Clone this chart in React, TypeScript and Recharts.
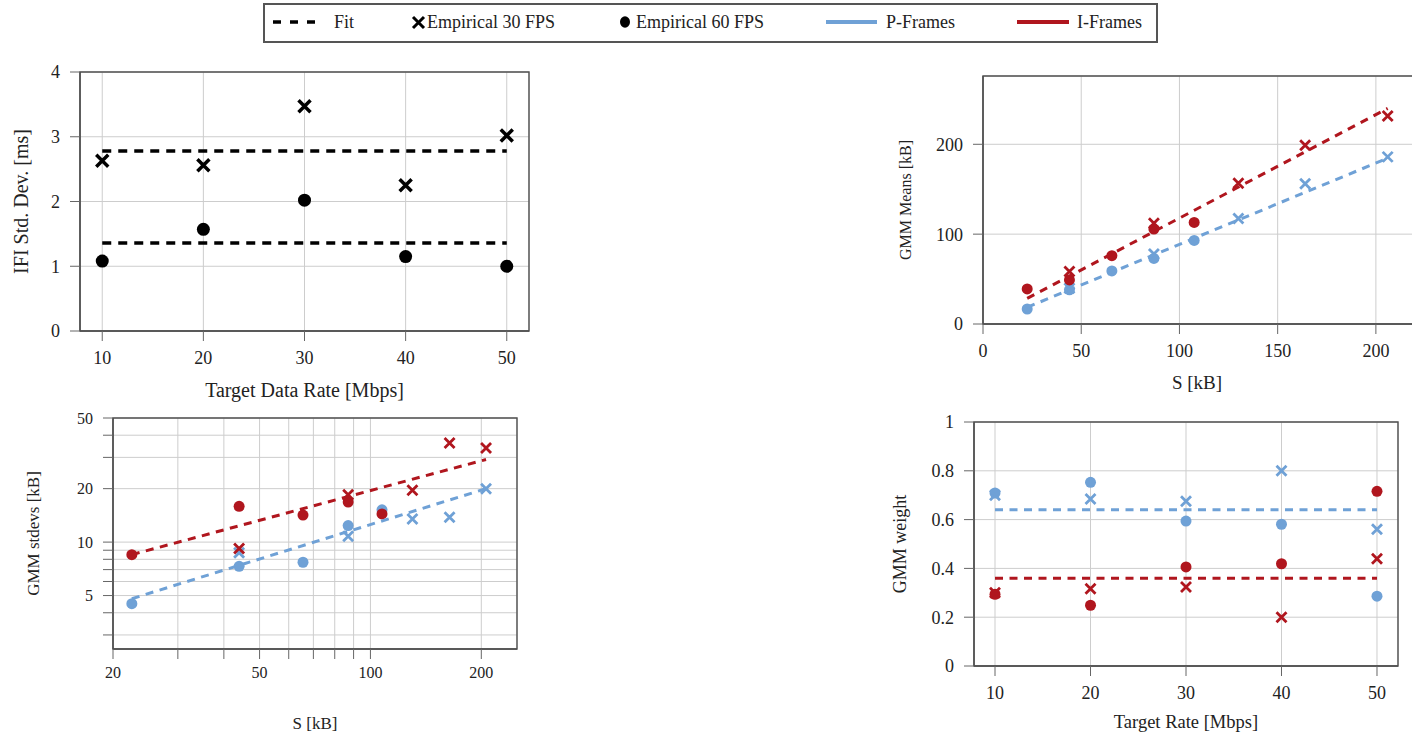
import React from "react";
import {
  CartesianGrid,
  Label,
  ReferenceArea,
  Scatter,
  ScatterChart,
  XAxis,
  YAxis,
} from "recharts";

const FONT = '"Liberation Serif", "DejaVu Serif", serif';
const BLUE = "#6fa1d6";
const RED = "#b0161e";
const INK = "#222";

// top left: inter-frame interval std. dev.
const rates = [10, 20, 30, 40, 50];
const fitRates = [10, 50];
const ifiStd30 = [2.63, 2.56, 3.47, 2.25, 3.02];
const ifiStd60 = [1.08, 1.57, 2.02, 1.15, 1.0];
const ifiFit30 = [2.78, 2.78];
const ifiFit60 = [1.36, 1.36];

// frame sizes S [kB] for the two frame rates
const size30 = [44, 87, 130, 164, 206];
const size60 = [22.5, 44, 65.6, 87, 107.5];
const fitSize = [22.5, 206];

// top right: GMM means
const meanP30 = [39.7, 78, 117.5, 156, 186];
const meanP60 = [16.7, 38, 59, 73, 93];
const meanI30 = [58.5, 112, 156.7, 199, 231.6];
const meanI60 = [39, 49, 76, 105.6, 113];
const meanFitP = [18.6, 184.5];
const meanFitI = [28.5, 240];

// bottom left: GMM stdevs (log-log)
const stdP30 = [8.7, 10.8, 13.5, 13.8, 20.0];
const stdP60 = [4.5, 7.3, 7.7, 12.4, 15.2];
const stdI30 = [9.2, 18.5, 19.6, 36.2, 33.9];
const stdI60 = [8.5, 15.9, 14.2, 16.8, 14.4];
const stdFitP = [4.8, 20.0];
const stdFitI = [8.5, 29.2];

// bottom right: GMM weights
const wP30 = [0.7, 0.684, 0.675, 0.8, 0.56];
const wP60 = [0.709, 0.753, 0.594, 0.581, 0.286];
const wI30 = [0.3, 0.317, 0.324, 0.2, 0.44];
const wI60 = [0.294, 0.249, 0.406, 0.419, 0.716];
const wFitP = [0.64, 0.64];
const wFitI = [0.36, 0.36];

// ticks
const rateTicks = [10, 20, 30, 40, 50];
const ifiTicks = [0, 1, 2, 3, 4];
const sizeTicks = [0, 50, 100, 150, 200];
const meanTicks = [0, 100, 200];
const logSizeTicks = [20, 30, 40, 50, 60, 70, 80, 90, 100, 200];
const logSizeLabels = [20, 50, 100, 200];
const logStdTicks = [3, 4, 5, 6, 7, 8, 9, 10, 20, 30, 40, 50];
const logStdLabels = [5, 10, 20, 50];
const weightTicks = [0, 0.2, 0.4, 0.6, 0.8, 1];

type Pt = { x: number; y: number };
type Kind = "dot" | "cross" | "fit";
type Series = { data: Pt[]; color: string; kind: Kind };

const pts = (xs: number[], ys: number[]): Pt[] =>
  xs.map((x, i) => ({ x, y: ys[i] }));

const crossShape = (color: string, s: number, w: number) => (props: any) => {
  const { cx, cy } = props;
  return (
    <path
      d={`M${cx - s},${cy - s}L${cx + s},${cy + s}M${cx - s},${cy + s}L${cx + s},${cy - s}`}
      stroke={color}
      strokeWidth={w}
      fill="none"
    />
  );
};

const dotShape = (color: string, r: number) => (props: any) => (
  <circle cx={props.cx} cy={props.cy} r={r} fill={color} />
);

const ML = 110;
const MT = 10;
const MR = 10;
const MB = 95;

type PanelProps = {
  box: [number, number, number, number];
  xDomain: [number, number];
  yDomain: [number, number];
  xTicks: number[];
  yTicks: number[];
  log?: boolean;
  xFmt?: (v: number) => string;
  yFmt?: (v: number) => string;
  xLabel: string;
  yLabel: string;
  xLabelGap: number;
  yLabelGap: number;
  xLabelShift?: number;
  tickFont: number;
  labelFont: number;
  yLabelFont?: number;
  xTickMargin: number;
  marker: { r: number; s: number; w: number };
  fitWidth: number;
  dash: string;
  series: Series[];
};

function Panel(p: PanelProps) {
  const [left, top, w, h] = p.box;
  const tickStyle = { fill: INK, fontSize: p.tickFont, fontFamily: FONT };
  return (
    <div style={{ position: "absolute", left: left - ML, top: top - MT }}>
      <ScatterChart
        width={ML + w + MR}
        height={MT + h + MB}
        margin={{ top: MT, right: MR, left: 0, bottom: 0 }}
      >
        <CartesianGrid stroke="#cdcdcd" strokeWidth={1} />
        <XAxis
          type="number"
          dataKey="x"
          domain={p.xDomain}
          ticks={p.xTicks}
          scale={p.log ? "log" : "linear"}
          allowDataOverflow
          interval={0}
          height={MB}
          tickSize={10}
          tickMargin={p.xTickMargin}
          tickLine={{ stroke: "#666" }}
          axisLine={{ stroke: "#505050", strokeWidth: 1.4 }}
          tick={tickStyle}
          tickFormatter={p.xFmt}
        >
          <Label
            content={(props: any) => {
              const vb = props.viewBox;
              return (
                <text
                  x={vb.x + vb.width / 2 + (p.xLabelShift ?? 0)}
                  y={vb.y + p.xLabelGap}
                  textAnchor="middle"
                  dominantBaseline="central"
                  fontSize={p.labelFont}
                  fontFamily={FONT}
                  fill={INK}
                >
                  {p.xLabel}
                </text>
              );
            }}
          />
        </XAxis>
        <YAxis
          type="number"
          dataKey="y"
          domain={p.yDomain}
          ticks={p.yTicks}
          scale={p.log ? "log" : "linear"}
          allowDataOverflow
          interval={0}
          width={ML}
          tickSize={10}
          tickMargin={10}
          tickLine={{ stroke: "#666" }}
          axisLine={{ stroke: "#505050", strokeWidth: 1.4 }}
          tick={tickStyle}
          tickFormatter={p.yFmt}
        >
          <Label
            content={(props: any) => {
              const vb = props.viewBox;
              const x = vb.x + vb.width - p.yLabelGap;
              const y = vb.y + vb.height / 2;
              return (
                <text
                  x={x}
                  y={y}
                  transform={`rotate(-90 ${x} ${y})`}
                  textAnchor="middle"
                  dominantBaseline="central"
                  fontSize={p.yLabelFont ?? p.labelFont}
                  fontFamily={FONT}
                  fill={INK}
                >
                  {p.yLabel}
                </text>
              );
            }}
          />
        </YAxis>
        <ReferenceArea
          x1={p.xDomain[0]}
          x2={p.xDomain[1]}
          y1={p.yDomain[0]}
          y2={p.yDomain[1]}
          fill="none"
          stroke="#505050"
          strokeWidth={1.4}
          ifOverflow="visible"
        />
        {p.series
          .filter((s) => s.kind !== "fit")
          .map((s, i) => (
            <Scatter
              key={`m${i}`}
              data={s.data}
              isAnimationActive={false}
              shape={
                s.kind === "cross"
                  ? crossShape(s.color, p.marker.s, p.marker.w)
                  : dotShape(s.color, p.marker.r)
              }
            />
          ))}
        {p.series
          .filter((s) => s.kind === "fit")
          .map((s, i) => (
            <Scatter
              key={`f${i}`}
              data={s.data}
              isAnimationActive={false}
              shape={() => <g />}
              line={{
                stroke: s.color,
                strokeWidth: p.fitWidth,
                strokeDasharray: p.dash,
                fill: "none",
              }}
            />
          ))}
      </ScatterChart>
    </div>
  );
}

const logFmt = (labels: number[]) => (v: number) =>
  labels.includes(v) ? String(v) : "";

function LegendBox() {
  const text: React.CSSProperties = {
    position: "absolute",
    top: 7,
    fontSize: 18,
    fontFamily: FONT,
    color: INK,
    lineHeight: "20px",
    whiteSpace: "nowrap",
  };
  return (
    <div
      style={{
        position: "absolute",
        left: 263,
        top: 3,
        width: 895,
        height: 40,
        border: "2px solid #555",
        boxSizing: "border-box",
      }}
    >
      <svg
        width={895}
        height={40}
        style={{ position: "absolute", left: -2, top: -2 }}
      >
        <line
          x1={10}
          y1={19}
          x2={52}
          y2={19}
          stroke="#000"
          strokeWidth={3.5}
          strokeDasharray="8 9"
        />
        <path d="M150,14L161,25M150,25L161,14" stroke="#000" strokeWidth={3} />
        <ellipse cx={362} cy={19} rx={5} ry={5.8} fill="#000" />
        <line x1={563} y1={19} x2={614} y2={19} stroke={BLUE} strokeWidth={4} />
        <line x1={754} y1={19} x2={806} y2={19} stroke={RED} strokeWidth={4} />
      </svg>
      <span style={{ ...text, left: 69 }}>Fit</span>
      <span style={{ ...text, left: 162 }}>Empirical 30 FPS</span>
      <span style={{ ...text, left: 371 }}>Empirical 60 FPS</span>
      <span style={{ ...text, left: 621 }}>P-Frames</span>
      <span style={{ ...text, left: 812 }}>I-Frames</span>
    </div>
  );
}

export default function App() {
  const bigMarker = { r: 6.5, s: 6, w: 3.5 };
  const smallMarker = { r: 5.5, s: 5, w: 2.8 };
  return (
    <div
      style={{
        position: "absolute",
        left: 0,
        top: 0,
        width: 1412,
        height: 734,
        overflow: "hidden",
        background: "#fff",
        fontFamily: FONT,
      }}
    >
      <LegendBox />
      <Panel
        box={[80, 72, 449, 259]}
        xDomain={[7.8, 52.2]}
        yDomain={[0, 4]}
        xTicks={rateTicks}
        yTicks={ifiTicks}
        xLabel="Target Data Rate [Mbps]"
        yLabel="IFI Std. Dev. [ms]"
        xLabelGap={59}
        yLabelGap={59}
        tickFont={18}
        labelFont={20}
        xTickMargin={10}
        marker={bigMarker}
        fitWidth={3.5}
        dash="9 7"
        series={[
          { data: pts(rates, ifiStd30), color: "#000", kind: "cross" },
          { data: pts(rates, ifiStd60), color: "#000", kind: "dot" },
          { data: pts(fitRates, ifiFit30), color: "#000", kind: "fit" },
          { data: pts(fitRates, ifiFit60), color: "#000", kind: "fit" },
        ]}
      />
      <Panel
        box={[983, 76, 442, 248]}
        xDomain={[0, 225]}
        yDomain={[0, 276]}
        xTicks={sizeTicks}
        yTicks={meanTicks}
        xLabel="S [kB]"
        yLabel="GMM Means [kB]"
        xLabelGap={58}
        yLabelGap={78}
        xLabelShift={-7}
        tickFont={18}
        labelFont={19}
        yLabelFont={16}
        xTickMargin={10}
        marker={smallMarker}
        fitWidth={3}
        dash="8 6.5"
        series={[
          { data: pts(size60, meanP60), color: BLUE, kind: "dot" },
          { data: pts(size30, meanP30), color: BLUE, kind: "cross" },
          { data: pts(size60, meanI60), color: RED, kind: "dot" },
          { data: pts(size30, meanI30), color: RED, kind: "cross" },
          { data: pts(fitSize, meanFitP), color: BLUE, kind: "fit" },
          { data: pts(fitSize, meanFitI), color: RED, kind: "fit" },
        ]}
      />
      <Panel
        box={[113, 418, 404, 231]}
        xDomain={[20, 250]}
        yDomain={[2.5, 50]}
        xTicks={logSizeTicks}
        yTicks={logStdTicks}
        log
        xFmt={logFmt(logSizeLabels)}
        yFmt={logFmt(logStdLabels)}
        xLabel="S [kB]"
        yLabel="GMM stdevs [kB]"
        xLabelGap={74}
        yLabelGap={80}
        tickFont={16}
        labelFont={17}
        xTickMargin={8}
        marker={smallMarker}
        fitWidth={3}
        dash="8 6.5"
        series={[
          { data: pts(size60, stdP60), color: BLUE, kind: "dot" },
          { data: pts(size30, stdP30), color: BLUE, kind: "cross" },
          { data: pts(size60, stdI60), color: RED, kind: "dot" },
          { data: pts(size30, stdI30), color: RED, kind: "cross" },
          { data: pts(fitSize, stdFitP), color: BLUE, kind: "fit" },
          { data: pts(fitSize, stdFitI), color: RED, kind: "fit" },
        ]}
      />
      <Panel
        box={[974, 422, 424, 244]}
        xDomain={[7.8, 52.2]}
        yDomain={[0, 1]}
        xTicks={rateTicks}
        yTicks={weightTicks}
        xLabel="Target Rate [Mbps]"
        yLabel="GMM weight"
        xLabelGap={56}
        yLabelGap={74}
        tickFont={18}
        labelFont={18.5}
        yLabelFont={18}
        xTickMargin={10}
        marker={smallMarker}
        fitWidth={3}
        dash="8 6.5"
        series={[
          { data: pts(rates, wP60), color: BLUE, kind: "dot" },
          { data: pts(rates, wP30), color: BLUE, kind: "cross" },
          { data: pts(rates, wI60), color: RED, kind: "dot" },
          { data: pts(rates, wI30), color: RED, kind: "cross" },
          { data: pts(fitRates, wFitP), color: BLUE, kind: "fit" },
          { data: pts(fitRates, wFitI), color: RED, kind: "fit" },
        ]}
      />
    </div>
  );
}
